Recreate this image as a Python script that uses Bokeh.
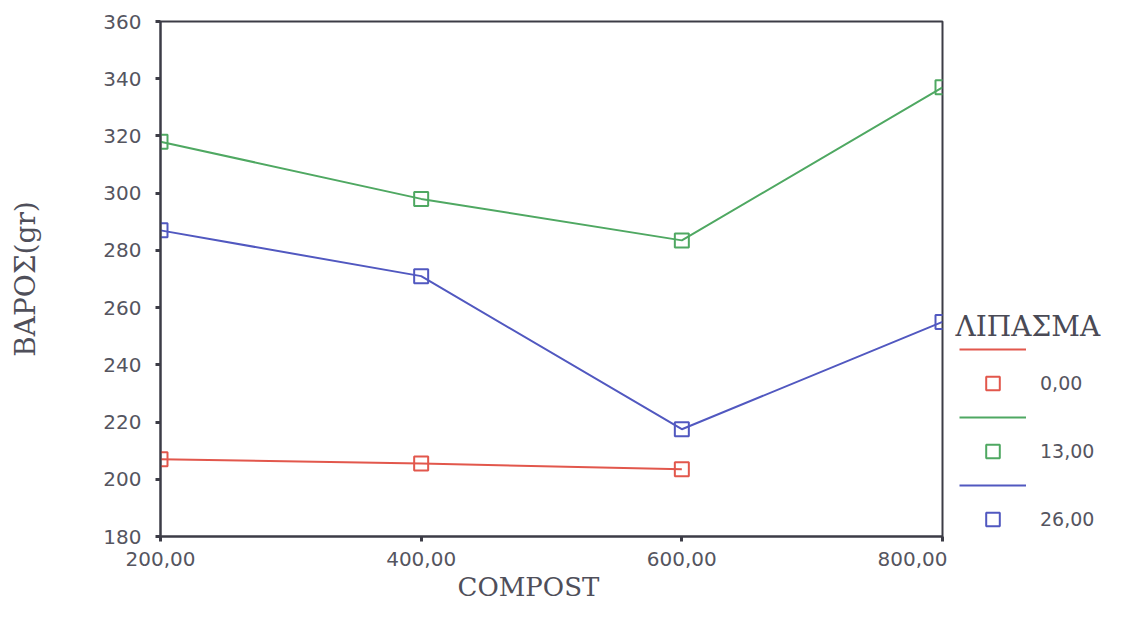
from bokeh.plotting import figure
from bokeh.layouts import row
from bokeh.models import Range1d, FixedTicker, Legend, LegendItem, Title, Label
from bokeh.embed import file_html
from bokeh.resources import INLINE

compost = [200, 400, 600, 800]
x_tick_labels = {200: "200,00", 400: "400,00", 600: "600,00", 800: "800,00"}
y_ticks = [180, 200, 220, 240, 260, 280, 300, 320, 340, 360]

legend_title = "ΛΙΠΑΣΜΑ"
series_names = ["0,00", "13,00", "26,00"]
x_0 = [200, 400, 600]
y_0 = [207, 205.5, 203.5]
x_13 = [200, 400, 600, 800]
y_13 = [318, 298, 283.5, 337]
x_26 = [200, 400, 600, 800]
y_26 = [287, 271, 217.5, 255]
colors = ["#e2574c", "#4fa862", "#5158c0"]

H = 608
p = figure(width=947, height=H, output_backend="svg", toolbar_location=None,
           x_range=Range1d(200, 800), y_range=Range1d(180, 360),
           min_border_left=160, min_border_right=5, min_border_top=21,
           min_border_bottom=72, background_fill_color="white",
           border_fill_color="white")
p.grid.visible = False
p.outline_line_color = "#3c3c46"
p.outline_line_width = 2

axc = "#3c3c46"
for ax in (p.xaxis[0], p.yaxis[0]):
    ax.axis_line_color = axc
    ax.axis_line_width = 2
    ax.major_tick_line_color = axc
    ax.major_tick_line_width = 3
    ax.major_tick_out = 5
    ax.major_tick_in = 0
    ax.minor_tick_line_color = None
    ax.major_label_text_font = "DejaVu Sans"
    ax.major_label_text_font_size = "20px"
    ax.major_label_text_color = "#55555f"

p.xaxis.ticker = FixedTicker(ticks=compost)
p.xaxis.major_label_overrides = x_tick_labels
p.xaxis.major_label_standoff = 10
p.yaxis.ticker = FixedTicker(ticks=y_ticks)
p.yaxis.major_label_standoff = 14

p.yaxis.axis_label = "ΒΑΡΟΣ(gr)"
p.yaxis.axis_label_text_font = "DejaVu Serif"
p.yaxis.axis_label_text_font_size = "28px"
p.yaxis.axis_label_text_font_style = "normal"
p.yaxis.axis_label_text_color = "#4f4f5a"
p.yaxis.axis_label_standoff = 58

xtitle = Title(text="COMPOST", align="left", offset=297,
               text_font="DejaVu Serif", text_font_size="26px",
               text_font_style="normal", text_color="#4f4f5a", standoff=2)
p.add_layout(xtitle, "below")

data = [(x_0, y_0), (x_13, y_13), (x_26, y_26)]
for (xs, ys), c in zip(data, colors):
    p.line(xs, ys, line_color=c, line_width=2)
    p.scatter(xs, ys, marker="square", size=14, fill_color=None,
              line_color=c, line_width=2)

# legend panel (separate figure placed to the right of the chart)
nan = float("nan")
p2 = figure(width=160, height=H, output_backend="svg", toolbar_location=None,
            x_range=Range1d(0, 1), y_range=Range1d(0, 1),
            x_axis_location=None, y_axis_location=None,
            min_border_left=0, min_border_right=0, min_border_top=0,
            min_border_bottom=0, background_fill_color="white",
            border_fill_color="white")
p2.grid.visible = False
p2.outline_line_color = None
items = []
for c, name in zip(colors, series_names):
    ln = p2.line([nan, nan], [nan, nan], line_color=c, line_width=2)
    sc = p2.scatter([nan], [nan], marker="square", size=14, fill_color=None,
                    line_color=c, line_width=2)
    items.append(LegendItem(label="", renderers=[ln]))
    items.append(LegendItem(label=name, renderers=[sc]))

legend = Legend(items=items, location=(12, 0),
                label_text_font="DejaVu Sans",
                label_text_font_size="19px", label_text_color="#55555f",
                glyph_width=67, glyph_height=34, label_height=34, spacing=0,
                label_standoff=14, padding=4, margin=0,
                border_line_color=None, background_fill_alpha=0)
p2.add_layout(legend)

title_label = Label(x=8, y=210, x_units="screen", y_units="screen",
                    text=legend_title, text_font="DejaVu Serif",
                    text_font_size="28px", text_color="#4a4a55",
                    text_align="left", text_baseline="middle")
p2.add_layout(title_label)

layout = row(p, p2)
open("out.html", "w").write(file_html(layout, INLINE))
